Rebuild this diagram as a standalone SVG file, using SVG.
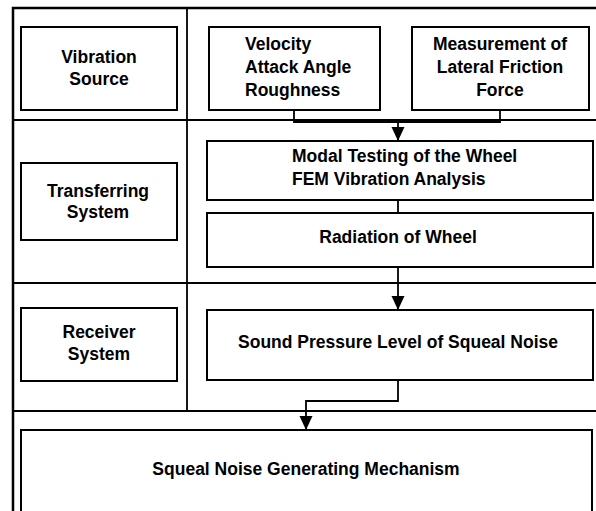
<svg xmlns="http://www.w3.org/2000/svg" width="596" height="511" viewBox="0 0 596 511">
<style>
.box{fill:#fff;stroke:#000;stroke-width:2}
.ln{fill:none;stroke:#000;stroke-width:1.8}
.frame{fill:none;stroke:#000;stroke-width:2.5}
text{font-family:"Liberation Sans",Arial,sans-serif;font-weight:bold;font-size:17.5px;fill:#000}
.c{text-anchor:middle}
</style>
<defs>
<marker id="ah" markerUnits="userSpaceOnUse" markerWidth="14" markerHeight="16" refX="13" refY="6.5" orient="auto">
<path d="M0,0 L14,6.5 L0,13 Z" fill="#000"/>
</marker>
</defs>
<rect width="596" height="511" fill="#fff"/>
<g id="frame">
<path class="frame" d="M13,511 V8 H600"/>
<path class="ln" d="M13,120 H596 M13,283 H596 M13,411 H596 M187,8 V411"/>
</g>
<g id="vibration-source">
<rect class="box" x="21" y="27" width="156" height="83"/>
<text class="c" x="99" y="63">Vibration</text>
<text class="c" x="99" y="85">Source</text>
</g>
<g id="velocity">
<rect class="box" x="209" y="27" width="171" height="83"/>
<text x="245" y="50">Velocity</text>
<text x="245" y="73">Attack Angle</text>
<text x="245" y="96">Roughness</text>
</g>
<g id="measurement">
<rect class="box" x="412" y="27" width="177" height="83"/>
<text class="c" x="500" y="50">Measurement of</text>
<text class="c" x="500" y="73">Lateral Friction</text>
<text class="c" x="500" y="96">Force</text>
</g>
<g id="transferring">
<rect class="box" x="21" y="163" width="156" height="77"/>
<text class="c" x="98" y="197">Transferring</text>
<text class="c" x="98" y="218">System</text>
</g>
<g id="modal">
<rect class="box" x="207" y="141" width="386" height="59"/>
<text x="292" y="162">Modal Testing of the Wheel</text>
<text x="292" y="185">FEM Vibration Analysis</text>
</g>
<g id="radiation">
<rect class="box" x="207" y="213" width="386" height="54"/>
<text class="c" x="398" y="243">Radiation of Wheel</text>
</g>
<g id="receiver">
<rect class="box" x="21" y="308" width="156" height="73"/>
<text class="c" x="99" y="338">Receiver</text>
<text class="c" x="99" y="360">System</text>
</g>
<g id="sound-pressure">
<rect class="box" x="207" y="310" width="386" height="70"/>
<text class="c" x="398" y="348">Sound Pressure Level of Squeal Noise</text>
</g>
<g id="squeal">
<rect class="box" x="21" y="430" width="571" height="100"/>
<text class="c" x="306" y="475">Squeal Noise Generating Mechanism</text>
</g>
<g id="connectors">
<path class="ln" d="M294,110 V122 H500 V110"/>
<path class="ln" d="M398,122 V140" marker-end="url(#ah)"/>
<path class="ln" d="M398,200 V213"/>
<path class="ln" d="M398,267 V309" marker-end="url(#ah)"/>
<path class="ln" d="M398,380 V401 H306 V429" marker-end="url(#ah)"/>
</g>
</svg>
